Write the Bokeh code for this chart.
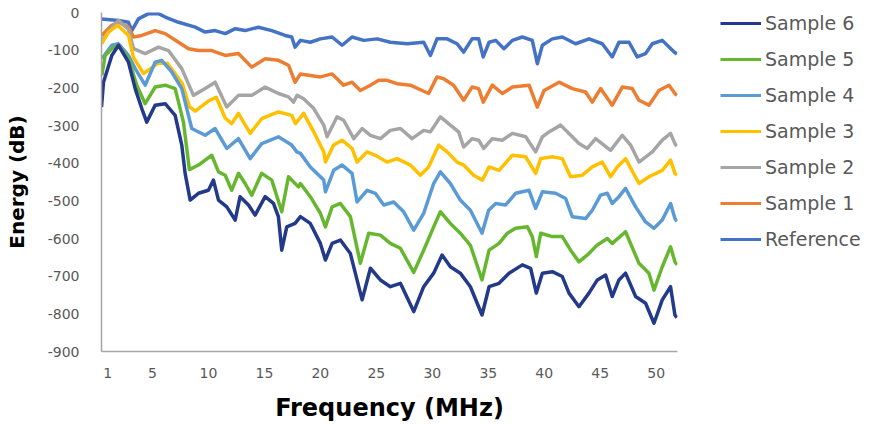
from bokeh.plotting import figure
from bokeh.models import Range1d, FixedTicker, Legend, LegendItem
from bokeh.layouts import row
from bokeh.embed import file_html
from bokeh.resources import INLINE

# Frequency (MHz) / Energy (dB) values
ref_f = [0.45, 1.97, 2.86, 3.16, 3.75, 4.65, 5.54, 6.14, 7.33, 8.82, 9.71, 10.6, 11.5, 12.4, 13.28,
         14.47, 15.66, 16.85, 17.44, 17.74, 18.22, 19.1, 20.0, 21.05, 21.94, 22.83, 23.87, 25.07,
         26.25, 27.75, 29.23, 29.83, 30.42, 31.32, 32.21, 32.8, 33.55, 34.14, 34.55, 35.07, 35.66,
         36.4, 37.15, 38.04, 38.93, 39.38, 39.83, 40.72, 41.61, 42.8, 44.0, 45.18, 46.07, 46.67,
         47.57, 48.3, 49.05, 49.65, 50.54, 51.6, 51.85]
ref_db = [-17, -21, -26, -48, -17, -3, -3, -12, -26, -39, -52, -48, -56, -43, -48,
          -39, -48, -61, -65, -92, -74, -79, -70, -65, -87, -65, -74, -70,
          -79, -83, -79, -114, -70, -70, -83, -105, -70, -70, -118, -79, -74,
          -96, -74, -65, -74, -136, -87, -70, -65, -83, -70, -83, -118, -79,
          -79, -118, -109, -83, -74, -105, -110]

s1_f = [0.48, 1.37, 1.97, 2.86, 3.31, 4.05, 5.24, 6.14, 7.33, 8.22, 9.11, 10.3, 11.5, 12.68, 13.87,
        15.07, 16.25, 17.15, 17.74, 18.22, 19.1, 20.0, 21.05, 22.08, 22.83, 23.57, 24.47, 25.21,
        25.96, 26.85, 28.04, 29.08, 29.67, 30.42, 31.01, 31.9, 32.8, 33.55, 34.14, 34.55, 35.36,
        36.25, 37.15, 38.64, 39.38, 39.98, 41.32, 42.5, 43.69, 44.29, 45.03, 46.07, 46.97, 47.86,
        48.46, 49.35, 50.24, 51.14, 51.67, 51.85]
s1_db = [-61, -34, -26, -39, -65, -61, -48, -56, -79, -96, -101, -101, -114, -109, -145,
         -123, -127, -140, -185, -163, -167, -171, -163, -193, -185, -207, -193, -180,
         -180, -189, -193, -207, -215, -171, -176, -193, -233, -198, -202, -238, -193,
         -215, -198, -193, -251, -207, -185, -202, -211, -238, -202, -246, -198, -202,
         -233, -246, -207, -193, -215, -220]

s2_f = [0.48, 1.37, 1.97, 2.86, 3.31, 4.35, 5.54, 6.43, 7.62, 8.66, 9.71, 10.6, 11.64, 12.68, 13.87,
        15.07, 16.25, 17.15, 17.6, 17.92, 18.51, 19.41, 20.3, 20.6, 21.49, 22.08, 22.98, 23.73,
        24.47, 25.36, 26.25, 27.15, 28.19, 29.23, 29.83, 30.72, 31.61, 32.35, 32.8, 33.55, 34.14,
        34.58, 35.36, 36.25, 37.15, 38.34, 39.23, 39.83, 40.42, 41.46, 42.21, 43.1, 43.84, 44.59,
        45.92, 46.97, 47.71, 48.46, 49.65, 50.54, 51.28, 51.67, 51.85]
s2_db = [-75, -40, -21, -45, -96, -109, -92, -101, -149, -220, -202, -185, -251, -220, -220,
         -198, -215, -224, -238, -220, -229, -255, -299, -330, -277, -286, -335, -308,
         -326, -335, -313, -308, -335, -313, -317, -277, -299, -317, -357, -335, -339,
         -361, -335, -339, -321, -330, -370, -330, -317, -299, -321, -348, -361, -335,
         -366, -326, -352, -397, -370, -339, -321, -348, -355]

s3_f = [0.45, 1.08, 1.88, 2.86, 3.3, 4.2, 4.8, 5.45, 6.34, 7.68, 8.3, 8.82, 10.0, 10.7, 11.5, 12.08,
        12.68, 13.73, 14.76, 16.25, 17.44, 17.77, 18.51, 19.41, 20.3, 20.45, 21.19, 21.94, 22.83,
        23.28, 24.17, 24.91, 25.96, 26.85, 28.04, 28.93, 29.67, 30.57, 31.32, 32.21, 32.8, 33.69,
        34.47, 35.07, 35.96, 37.15, 38.34, 39.23, 39.68, 40.72, 41.61, 42.35, 43.4, 44.29, 45.18,
        45.92, 46.52, 47.26, 48.46, 49.35, 50.54, 51.28, 51.67, 51.85]
s3_db = [-83, -52, -34, -61, -119, -162, -150, -135, -135, -189, -250, -262, -235, -225, -280, -295,
         -268, -321, -282, -264, -273, -295, -268, -317, -370, -397, -352, -339, -361,
         -397, -370, -379, -397, -388, -405, -432, -410, -352, -370, -397, -405, -432,
         -445, -410, -419, -379, -383, -427, -388, -383, -388, -436, -432, -410, -397,
         -436, -410, -388, -454, -436, -419, -392, -427, -432]

s4_f = [0.48, 1.37, 1.97, 2.86, 3.46, 4.35, 5.24, 5.83, 6.73, 7.62, 8.51, 9.71, 10.6, 11.64, 12.68,
        13.73, 14.76, 16.25, 17.44, 17.89, 18.22, 19.1, 20.3, 20.45, 21.19, 21.94, 22.83, 23.28,
        24.17, 24.91, 25.66, 26.55, 27.44, 28.34, 29.23, 30.12, 30.72, 31.61, 32.5, 33.4, 34.44,
        35.03, 35.66, 36.55, 37.44, 38.64, 39.23, 39.83, 41.01, 41.91, 42.5, 43.69, 44.29, 45.03,
        45.63, 46.07, 46.67, 47.26, 48.16, 49.05, 49.8, 50.54, 51.28, 51.67, 51.85]
s4_db = [-123, -87, -83, -114, -149, -193, -132, -127, -158, -202, -308, -326, -308, -361, -335,
         -388, -348, -330, -352, -370, -374, -410, -445, -476, -419, -405, -427, -503,
         -472, -480, -511, -503, -529, -578, -533, -454, -423, -454, -498, -525, -586,
         -525, -507, -511, -480, -472, -520, -476, -480, -494, -542, -547, -525, -485,
         -480, -507, -489, -467, -516, -556, -573, -551, -507, -547, -555]

s5_f = [0.48, 0.78, 1.37, 1.97, 2.86, 3.6, 4.35, 5.24, 6.14, 7.03, 7.77, 8.3, 9.11, 10.3, 10.9,
        11.5, 12.08, 12.68, 13.28, 13.87, 14.76, 15.66, 16.55, 17.15, 18.04, 18.22, 19.1, 20.0,
        20.45, 21.05, 21.79, 22.68, 23.57, 24.32, 25.36, 26.25, 27.15, 28.34, 29.23, 30.12, 30.72,
        31.61, 32.5, 33.4, 34.44, 35.07, 35.96, 36.7, 37.44, 38.49, 38.93, 39.29, 39.68, 40.72,
        41.61, 42.35, 43.1, 43.99, 44.74, 45.63, 46.07, 47.26, 48.46, 49.35, 49.8, 50.54, 51.28,
        51.67, 51.85]
s5_db = [-167, -114, -96, -87, -123, -193, -242, -198, -193, -202, -291, -417, -405, -379, -423,
         -432, -472, -427, -454, -485, -427, -445, -529, -436, -463, -454, -489, -533,
         -569, -516, -507, -542, -666, -586, -591, -613, -626, -690, -631, -569, -529,
         -560, -586, -618, -710, -631, -613, -586, -573, -569, -595, -648, -586, -595,
         -595, -631, -662, -640, -617, -600, -613, -582, -666, -692, -737, -675, -622,
         -662, -670]

s6_f = [0.45, 0.63, 1.37, 1.97, 2.86, 3.46, 4.05, 4.49, 5.24, 6.14, 7.03, 7.62, 7.92, 8.37, 9.11,
        10.0, 10.45, 10.9, 11.64, 12.39, 12.83, 13.58, 14.17, 15.07, 15.81, 16.25, 16.55, 17.0,
        17.74, 18.22, 19.1, 20.0, 20.45, 21.05, 21.79, 22.68, 23.73, 24.47, 25.36, 26.25, 27.15,
        28.34, 29.23, 30.12, 30.87, 31.61, 32.5, 33.4, 34.44, 35.07, 35.96, 36.85, 38.04, 38.78,
        39.29, 39.83, 40.72, 41.61, 42.21, 43.1, 43.99, 44.74, 45.48, 46.07, 46.67, 47.26, 48.16,
        49.05, 49.8, 50.54, 51.28, 51.67, 51.85]
s6_db = [-251, -185, -114, -87, -132, -202, -255, -291, -246, -242, -273, -352, -427, -498, -480,
         -472, -445, -498, -516, -551, -489, -511, -538, -489, -507, -542, -631, -569,
         -560, -542, -560, -613, -657, -613, -604, -640, -763, -679, -710, -728, -719,
         -794, -728, -692, -644, -675, -692, -728, -803, -728, -719, -692, -670, -679,
         -745, -692, -688, -701, -745, -781, -745, -710, -697, -754, -710, -692, -754,
         -772, -825, -763, -728, -803, -810]

names = ["Reference", "Sample 1", "Sample 2", "Sample 3", "Sample 4", "Sample 5", "Sample 6"]
freqs = [ref_f, s1_f, s2_f, s3_f, s4_f, s5_f, s6_f]
energies = [ref_db, s1_db, s2_db, s3_db, s4_db, s5_db, s6_db]
colors = ["#4472C4", "#ED7D31", "#A5A5A5", "#FFC000", "#5B9BD5", "#66B72F", "#23398A"]

y_ticks = [0, -100, -200, -300, -400, -500, -600, -700, -800, -900]
x_ticks = [1, 5, 10, 15, 20, 25, 30, 35, 40, 45, 50]
legend_order = ["Sample 6", "Sample 5", "Sample 4", "Sample 3", "Sample 2", "Sample 1", "Reference"]

# ---- main chart ----
p = figure(width=687, height=424, output_backend="svg", toolbar_location=None,
           x_range=Range1d(0.45, 51.9), y_range=Range1d(-900, 0),
           min_border_left=101, min_border_right=10, min_border_top=12, min_border_bottom=72,
           x_axis_label="Frequency (MHz)", y_axis_label="Energy (dB)")
p.outline_line_color = None
p.xgrid.visible = False
p.ygrid.ticker = FixedTicker(ticks=[0])
p.ygrid.grid_line_color = "#D9D9D9"
p.ygrid.grid_line_width = 1.5

for ax in (p.xaxis[0], p.yaxis[0]):
    ax.axis_line_color = "#A6A6A6"
    ax.axis_line_width = 1.5
    ax.major_tick_line_color = None
    ax.minor_tick_line_color = None
    ax.major_label_text_font = "DejaVu Sans"
    ax.major_label_text_font_size = "14px"
    ax.major_label_text_color = "#595959"
    ax.axis_label_text_font = "DejaVu Sans"
    ax.axis_label_text_font_style = "bold"
    ax.axis_label_text_color = "#000000"

p.yaxis.ticker = FixedTicker(ticks=y_ticks)
p.yaxis.major_label_overrides = {v: str(v) for v in y_ticks}
p.yaxis.major_label_standoff = 16
p.yaxis.axis_label_standoff = 16
p.yaxis.axis_label_text_font_size = "20px"
p.xaxis.ticker = FixedTicker(ticks=x_ticks)
p.xaxis.major_label_overrides = {v: str(v) for v in x_ticks}
p.xaxis.major_label_standoff = 10
p.xaxis.axis_label_standoff = 13
p.xaxis.axis_label_text_font_size = "24px"

for name, f, e, c in zip(names, freqs, energies, colors):
    p.line(f, e, line_color=c, line_width=3.5, line_join="round")

# ---- legend panel (same series, drawn outside its view so only the legend shows) ----
lg = figure(width=184, height=424, output_backend="svg", toolbar_location=None,
            x_range=Range1d(-20, -19), y_range=Range1d(-900, 0),
            x_axis_location=None, y_axis_location=None,
            min_border_left=33, min_border_right=0, min_border_top=11, min_border_bottom=0)
lg.outline_line_color = None
lg.xgrid.visible = False
lg.ygrid.visible = False
lg_renderers = {}
for name, f, e, c in zip(names, freqs, energies, colors):
    lg_renderers[name] = lg.line(f, e, line_color=c, line_width=3)

legend = Legend(items=[LegendItem(label=n, renderers=[lg_renderers[n]]) for n in legend_order],
                location="top_left", orientation="vertical",
                glyph_width=41, glyph_height=22, label_height=22, spacing=14,
                label_standoff=4, padding=0, margin=0,
                border_line_color=None, background_fill_alpha=0,
                label_text_font="DejaVu Sans", label_text_font_size="19px",
                label_text_color="#595959")
lg.add_layout(legend)

layout = row(p, lg, spacing=0)
open("out.html", "w").write(file_html(layout, INLINE))
